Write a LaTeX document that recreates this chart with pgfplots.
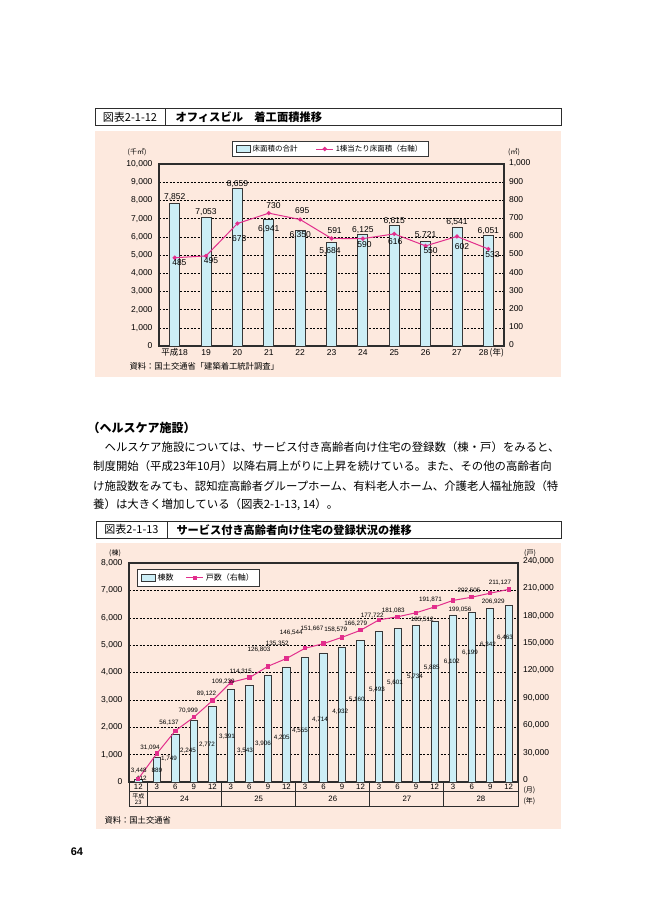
\documentclass[border=0pt]{standalone}
\usepackage{pgfplots}
\pgfplotsset{compat=1.18}
\usepackage{pgfplotstable}
\usepackage{fontspec}
\setmainfont{Liberation Sans}
\newfontfamily\jp{Noto Sans CJK JP}
\XeTeXlinebreaklocale "ja"
\XeTeXlinebreakskip=0pt plus 2pt

\definecolor{pinkbg}{RGB}{253,233,222}
\definecolor{barcyan}{RGB}{204,238,246}
\definecolor{edge}{RGB}{55,55,55}
\definecolor{lineMag}{RGB}{226,46,140}
\definecolor{frame}{RGB}{45,45,45}

% 図表2-1-12 オフィスビル
\pgfplotstableread{
x area unit
0 7852 485
1 7053 495
2 8659 673
3 6941 730
4 6350 695
5 5684 591
6 6125 590
7 6615 616
8 5721 550
9 6541 602
10 6051 533
}\office
% label positions (left axis units)
\pgfplotstableread{
x y t
0 8190 7,852
1 7350 7,053
2 8920 8,659
3 6410 6,941
4 6100 6,350
4.95 5240 5,684
6 6370 6,125
7 6890 6,615
8 6100 5,721
9 6800 6,541
10 6340 6,051
}\officebarlab
% label positions (right axis units)
\pgfplotstableread{
x y t
0.15 460 485
1.16 469 495
2.06 588 673
3.15 771 730
4.07 742 695
5.10 632 591
6.05 555 590
7.03 573 616
8.16 522 550
9.16 549 602
10.13 500 533
}\officeunitlab

% 図表2-1-13 サービス付き高齢者向け住宅
\pgfplotstableread{
x bldg units
0 112 3448
1 889 31094
2 1749 56137
3 2245 70999
4 2772 89122
5 3391 109239
6 3543 114315
7 3906 126803
8 4205 135352
9 4555 146544
10 4714 151667
11 4932 158579
12 5160 166279
13 5493 177722
14 5601 181083
15 5734 185512
16 5885 191871
17 6102 199056
18 6199 202505
19 6342 206929
20 6463 211127
}\sakoju
\pgfplotstableread{
x y t
0.18 135 112
1.00 438 889
1.66 866 1,749
2.69 1132 2,245
3.71 1352 2,772
4.79 1669 3,391
5.76 1132 3,543
6.74 1388 3,906
7.74 1633 4,205
8.73 1874 4,555
9.81 2265 4,714
10.90 2568 4,932
11.79 2995 5,160
12.89 3386 5,493
13.86 3627 5,601
14.94 3847 5,734
15.85 4175 5,885
16.92 4395 6,102
17.91 4723 6,199
18.88 5030 6,342
19.80 5271 6,463
}\sakojubarlab
\pgfplotstableread{
x y t
0.02 12384 3,448
0.63 38028 31,094
1.66 64987 56,137
2.70 78138 70,999
3.69 97206 89,122
4.59 109919 109,239
5.53 120878 114,315
6.52 145426 126,803
7.50 152001 135,352
8.26 163618 146,544
9.38 168440 151,667
10.66 166577 158,579
11.74 173919 166,279
12.63 182248 177,722
13.77 187399 181,083
15.33 178303 185,512
15.78 199454 191,871
17.37 188495 199,056
17.85 209317 202,505
19.17 197591 206,929
19.53 218413 211,127
}\sakojuunitlab

\pgfplotsset{
  twin/.style={scale only axis, anchor=south west, clip=false,
    major tick length=0pt, scaled y ticks=false,
    /pgf/number format/assume math mode=true,
    /pgf/number format/fixed, /pgf/number format/precision=0,
    /pgf/number format/1000 sep={,},
    axis line style={frame, line width=1.1pt},
    tick label style={font=\fontsize{8.5}{10}\selectfont, text=black}},
  lab/.style={draw=none, mark=none, forget plot, nodes near coords,
    point meta=explicit symbolic,
    nodes near coords style={anchor=center, inner sep=0pt, text=black, font=#1}},
  swatch/.style={legend image code/.code={
    \draw[fill=barcyan, draw=edge, line width=0.6pt] (0pt,-3.5pt) rectangle (14pt,3.5pt);}}
}

\newcommand\bodyline[1]{\hbox to 467pt{\jp\fontsize{11.4}{14}\selectfont #1}}

\begin{document}
\begin{tikzpicture}
\fill[white] (0,0) rectangle (669pt,-916pt);
\path[use as bounding box] (0,0) rectangle (669pt,-916pt);

% ---------- 図表2-1-12 ----------
\draw[frame, line width=0.9pt, fill=white] (95pt,-108.5pt) rectangle (561.5pt,-125.7pt);
\draw[frame, line width=0.9pt] (165pt,-108.5pt) -- (165pt,-125.7pt);
\node[font=\jp\fontsize{11}{13}\selectfont] at (130pt,-117.1pt) {図表2-1-12};
\node[anchor=west, font=\jp\bfseries\fontsize{11.3}{13}\selectfont] at (172pt,-117.1pt) {オフィスビル　着工面積推移};
\fill[pinkbg] (95pt,-130.5pt) rectangle (561pt,-377pt);

\node[font=\jp\fontsize{7}{8}\selectfont] at (137pt,-152pt) {(千㎡)};
\node[font=\jp\fontsize{7}{8}\selectfont] at (514pt,-152pt) {(㎡)};
\node[anchor=west, font=\jp\fontsize{8.3}{10}\selectfont] at (126pt,-366pt) {資料：国土交通省「建築着工統計調査」};

\begin{axis}[twin,
  at={(159pt,-346pt)}, width=345pt, height=182pt,
  xmin=-0.5, xmax=10.5, ymin=0, ymax=10000,
  xtick={0,...,10},
  xticklabels={{\jp 平成}18,19,20,21,22,23,24,25,26,27,{\makebox[0pt][r]{28}\makebox[0pt][l]{\jp\,(年)}}},
  ytick={0,1000,...,10000},
  ymajorgrids, grid style={black, line width=0.5pt, dash pattern=on 2pt off 1.5pt},
  xticklabel style={anchor=center, yshift=-6.5pt},
  yticklabel style={xshift=-3pt},
]
\addplot[ybar, bar width=10pt, fill=barcyan, draw=edge, line width=0.8pt] table[x=x, y=area]{\office};
\addplot[lab={\fontsize{8.5}{10}\selectfont}] table[x=x, y=y, meta=t]{\officebarlab};
\end{axis}

\begin{axis}[twin,
  at={(159pt,-346pt)}, width=345pt, height=182pt,
  xmin=-0.5, xmax=10.5, ymin=0, ymax=1000,
  ytick={0,100,...,1000},
  axis x line=none, axis y line*=right,
  yticklabel style={xshift=1.5pt, yshift=1pt},
  legend style={at={(0.211,1.125)}, anchor=north west, draw=edge, line width=0.6pt,
    fill=white, font=\jp\fontsize{7.5}{9}\selectfont, inner ysep=1.5pt, inner xsep=4pt,
    /tikz/every even column/.append style={column sep=16pt}},
  legend columns=2, legend cell align=left,
]
\addlegendimage{swatch}
\addlegendentry{床面積の合計}
\addplot[lineMag, line width=1pt, mark=*, mark size=1.6pt] table[x=x, y=unit]{\office};
\addlegendentry{1棟当たり床面積（右軸）}
\addplot[lab={\fontsize{8.5}{10}\selectfont}] table[x=x, y=y, meta=t]{\officeunitlab};
\end{axis}

% ---------- 本文 ----------
\node[anchor=west, font=\jp\bfseries\fontsize{12}{14}\selectfont] at (84pt,-428pt) {（ヘルスケア施設）};
\node[anchor=west, inner sep=0pt] at (93pt,-447.3pt) {\bodyline{　ヘルスケア施設については、サービス付き高齢者向け住宅の登録数（棟・戸）をみると、}};
\node[anchor=west, inner sep=0pt] at (93pt,-466.5pt) {\bodyline{制度開始（平成23年10月）以降右肩上がりに上昇を続けている。また、その他の高齢者向}};
\node[anchor=west, inner sep=0pt] at (93pt,-485.7pt) {\bodyline{け施設数をみても、認知症高齢者グループホーム、有料老人ホーム、介護老人福祉施設（特}};
\node[anchor=west, inner sep=0pt, font=\jp\fontsize{11.4}{14}\selectfont] at (93pt,-504.9pt) {養）は大きく増加している（図表2-1-13, 14）。};

% ---------- 図表2-1-13 ----------
\draw[frame, line width=0.9pt, fill=white] (96pt,-521.7pt) rectangle (561pt,-538pt);
\draw[frame, line width=0.9pt] (167pt,-521.7pt) -- (167pt,-538pt);
\node[font=\jp\fontsize{11}{13}\selectfont] at (131.5pt,-529.8pt) {図表2-1-13};
\node[anchor=west, font=\jp\bfseries\fontsize{11.2}{13}\selectfont] at (173pt,-529.8pt) {サービス付き高齢者向け住宅の登録状況の推移};
\fill[pinkbg] (96pt,-542.7pt) rectangle (561pt,-829.3pt);

\node[font=\jp\fontsize{7}{8}\selectfont] at (115pt,-553.5pt) {(棟)};
\node[font=\jp\fontsize{7}{8}\selectfont] at (530pt,-553.5pt) {(戸)};
\node[anchor=west, font=\jp\fontsize{7}{8}\selectfont] at (520pt,-790pt) {(月)};
\node[anchor=west, font=\jp\fontsize{7}{8}\selectfont] at (520pt,-801pt) {(年)};
\node[anchor=west, font=\jp\fontsize{8.3}{10}\selectfont] at (101pt,-820pt) {資料：国土交通省};
\node[font=\bfseries\fontsize{11}{13}\selectfont] at (77pt,-852pt) {64};

\begin{axis}[twin,
  at={(129pt,-782pt)}, width=389pt, height=219pt,
  xmin=-0.5, xmax=20.5, ymin=0, ymax=8000,
  xtick={0,...,20},
  xticklabels={12,3,6,9,12,3,6,9,12,3,6,9,12,3,6,9,12,3,6,9,12},
  ytick={0,1000,...,8000},
  ymajorgrids, grid style={black, line width=0.5pt, dash pattern=on 2pt off 1.5pt},
  xticklabel style={anchor=center, yshift=-4.6pt, font=\fontsize{7.8}{8}\selectfont},
  yticklabel style={xshift=-3pt},
]
\addplot[ybar, bar width=7.3pt, fill=barcyan, draw=edge, line width=0.8pt] table[x=x, y=bldg]{\sakoju};
\addplot[lab={\fontsize{6.3}{7}\selectfont}] table[x=x, y=y, meta=t]{\sakojubarlab};
\pgfplotsinvokeforeach{-0.5,0.5,4.5,8.5,12.5,16.5,20.5}{
  \draw[frame, line width=0.9pt] (axis cs:#1,0) -- ([yshift=-24.7pt]axis cs:#1,0);
}
\draw[frame, line width=0.9pt] ([yshift=-9pt]axis cs:-0.5,0) -- ([yshift=-9pt]axis cs:20.5,0);
\draw[frame, line width=0.9pt] ([yshift=-24.7pt]axis cs:-0.5,0) -- ([yshift=-24.7pt]axis cs:20.5,0);
\node[align=center, font=\jp\fontsize{6}{6.3}\selectfont, inner sep=0pt] at ([yshift=-16.9pt]axis cs:0,0) {平成\\23};
\node[font=\fontsize{7.8}{8}\selectfont] at ([yshift=-16.9pt]axis cs:2.5,0) {24};
\node[font=\fontsize{7.8}{8}\selectfont] at ([yshift=-16.9pt]axis cs:6.5,0) {25};
\node[font=\fontsize{7.8}{8}\selectfont] at ([yshift=-16.9pt]axis cs:10.5,0) {26};
\node[font=\fontsize{7.8}{8}\selectfont] at ([yshift=-16.9pt]axis cs:14.5,0) {27};
\node[font=\fontsize{7.8}{8}\selectfont] at ([yshift=-16.9pt]axis cs:18.5,0) {28};
\end{axis}

\begin{axis}[twin,
  at={(129pt,-782pt)}, width=389pt, height=219pt,
  xmin=-0.5, xmax=20.5, ymin=0, ymax=240000,
  ytick={0,30000,...,240000},
  axis x line=none, axis y line*=right,
  yticklabel style={xshift=1.5pt, yshift=2pt},
  legend style={at={(0.02,0.971)}, anchor=north west, draw=edge, line width=0.6pt,
    fill=white, font=\jp\fontsize{8}{9.5}\selectfont, inner ysep=2pt, inner xsep=4pt,
    /tikz/every even column/.append style={column sep=10pt}},
  legend columns=2, legend cell align=left,
]
\addlegendimage{swatch}
\addlegendentry{棟数}
\addplot[lineMag, line width=1pt, mark=square*, mark size=1.7pt] table[x=x, y=units]{\sakoju};
\addlegendentry{戸数（右軸）}
\addplot[lab={\fontsize{6.3}{7}\selectfont}] table[x=x, y=y, meta=t]{\sakojuunitlab};
\end{axis}
\end{tikzpicture}
\end{document}
